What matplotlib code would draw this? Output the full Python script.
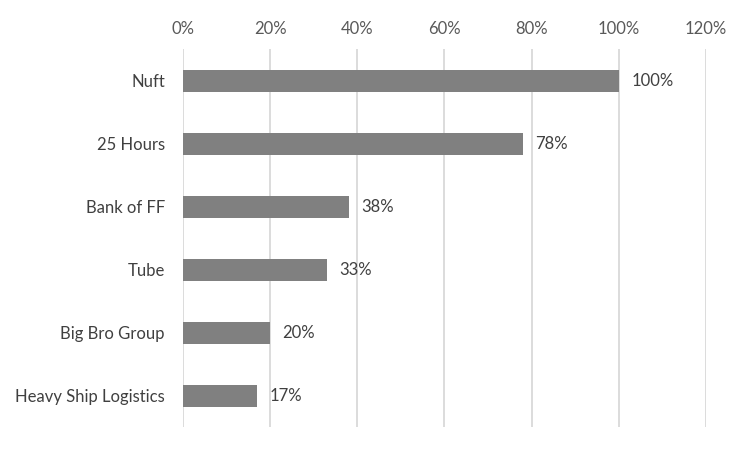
import matplotlib
matplotlib.use("Agg")
import matplotlib.pyplot as plt
from matplotlib.ticker import FuncFormatter

# data, top to bottom as shown
companies = ["Nuft", "25 Hours", "Bank of FF", "Tube", "Big Bro Group", "Heavy Ship Logistics"]
shares = [1.00, 0.78, 0.38, 0.33, 0.20, 0.17]
x_ticks = [0.0, 0.2, 0.4, 0.6, 0.8, 1.0, 1.2]

plt.rcParams["font.family"] = ["Lato", "DejaVu Sans"]

fig = plt.figure(figsize=(7.5, 4.5), dpi=100)
ax = fig.add_axes([0.244, 0.051, 0.697, 0.840])

ypos = list(range(len(companies)))
ax.barh(ypos, shares, height=0.35, color="#808080", zorder=3)

for y, v in zip(ypos, shares):
    ax.annotate(f"{v:.0%}", xy=(v, y), xytext=(9, 0), textcoords="offset points",
                va="center", ha="left", fontsize=12, color="#404040")

ax.set_xlim(0, 1.2)
ax.set_ylim(len(companies) - 0.5, -0.5)
ax.set_xticks(x_ticks)
ax.xaxis.set_major_formatter(FuncFormatter(lambda v, p: f"{v:.0%}"))
ax.xaxis.tick_top()
ax.set_yticks(ypos)
ax.set_yticklabels(companies)

ax.tick_params(axis="x", length=0, pad=9, labelsize=12, labelcolor="#595959")
ax.tick_params(axis="y", length=0, pad=13, labelsize=12, labelcolor="#404040")
ax.grid(axis="x", color="#d9d9d9", linewidth=1.3, zorder=0)
for s in ax.spines.values():
    s.set_visible(False)

fig.savefig("out.png", dpi=100)
